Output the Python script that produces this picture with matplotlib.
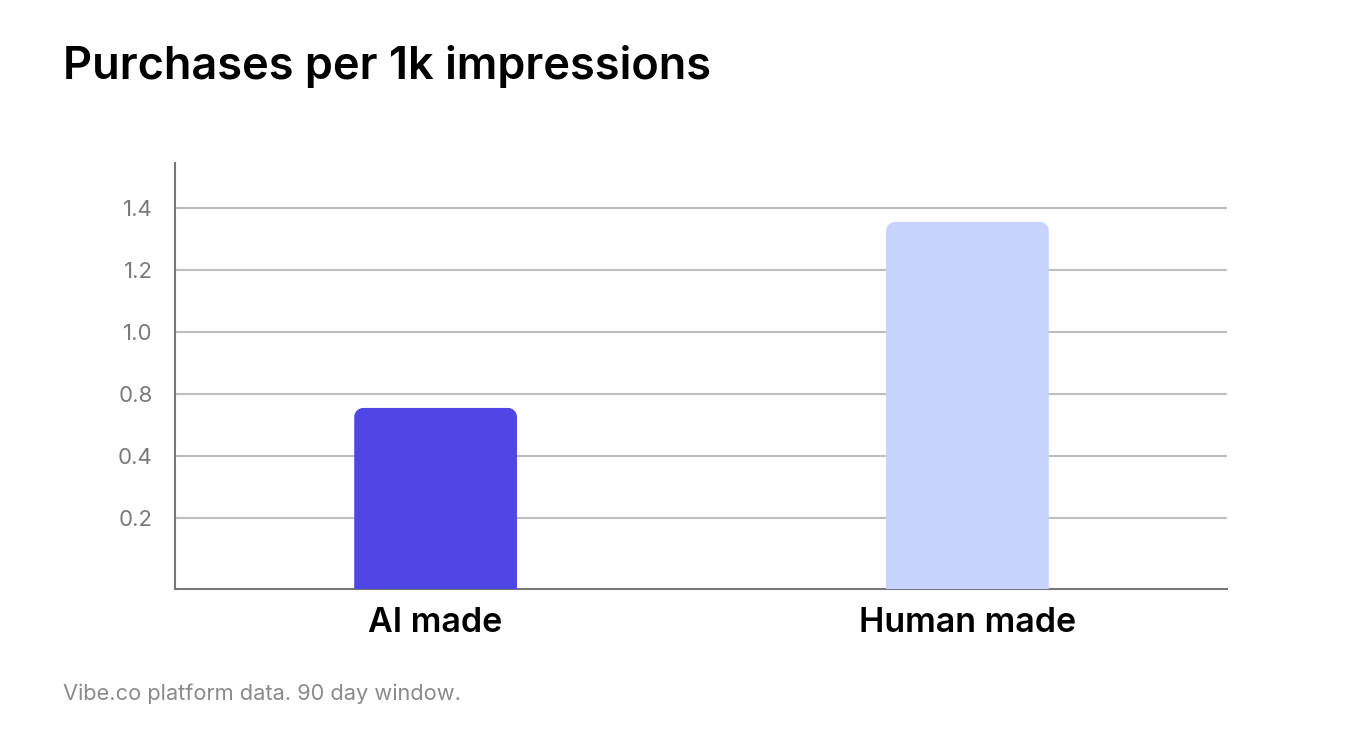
import matplotlib
matplotlib.use("Agg")
import matplotlib.pyplot as plt
from matplotlib.path import Path
from matplotlib.patches import PathPatch

plt.rcParams['font.family'] = ['Inter', 'DejaVu Sans']

categories = ["AI made", "Human made"]
values = [0.755, 1.355]
colors = ["#5046E5", "#C7D2FE"]
tick_pos = [0.4, 0.6, 0.8, 1.0, 1.2, 1.4]
tick_labels = ["0.2", "0.4", "0.8", "1.0", "1.2", "1.4"]

W, H = 1362, 751
fig = plt.figure(figsize=(W / 100, H / 100), dpi=100)
ax = fig.add_axes([175 / W, (H - 589) / H, 1052 / W, (589 - 163) / H])

ymin, ymax = 0.171, 1.545
ax.set_xlim(-0.49, 1.488)
ax.set_ylim(ymin, ymax)

bw = 0.306
r_px = 9
# radius in data units for x and y
rx = r_px / (1052 / (1.488 + 0.49))
ry = r_px / (426 / (ymax - ymin))


def top_rounded(x0, x1, y0, y1):
    k = 0.55
    verts = [(x0, y0), (x0, y1 - ry),
             (x0, y1 - ry + k * ry), (x0 + rx - k * rx, y1), (x0 + rx, y1),
             (x1 - rx, y1),
             (x1 - rx + k * rx, y1), (x1, y1 - ry + k * ry), (x1, y1 - ry),
             (x1, y0), (x0, y0)]
    codes = [Path.MOVETO, Path.LINETO,
             Path.CURVE4, Path.CURVE4, Path.CURVE4,
             Path.LINETO,
             Path.CURVE4, Path.CURVE4, Path.CURVE4,
             Path.LINETO, Path.CLOSEPOLY]
    return Path(verts, codes)


for i, (v, c) in enumerate(zip(values, colors)):
    p = top_rounded(i - bw / 2, i + bw / 2, ymin, v)
    ax.add_patch(PathPatch(p, facecolor=c, edgecolor="none", zorder=3))

ax.set_yticks(tick_pos)
ax.set_yticklabels(tick_labels)
ax.set_xticks(range(len(categories)))
ax.set_xticklabels(categories, fontsize=24.5, fontweight=600, color="black")
ax.tick_params(axis="x", length=0, pad=13)
ax.tick_params(axis="y", length=0, pad=16, labelsize=16, labelcolor="#7a7a7a")
ax.grid(axis="y", color="#bdbdbd", linewidth=1.5, zorder=0)
ax.set_axisbelow(True)
for s in ["top", "right"]:
    ax.spines[s].set_visible(False)
for s in ["left", "bottom"]:
    ax.spines[s].set_color("#777777")
    ax.spines[s].set_linewidth(1.5)

fig.text(63 / W, 1 - 66 / H, "Purchases per 1k impressions", fontsize=32.5,
         fontweight=600, va="center", ha="left", color="black")
fig.text(63 / W, 1 - 694 / H, "Vibe.co platform data. 90 day window.",
         fontsize=15.7, va="center", ha="left", color="#8a8a8a")

fig.savefig("out.png", dpi=100)
